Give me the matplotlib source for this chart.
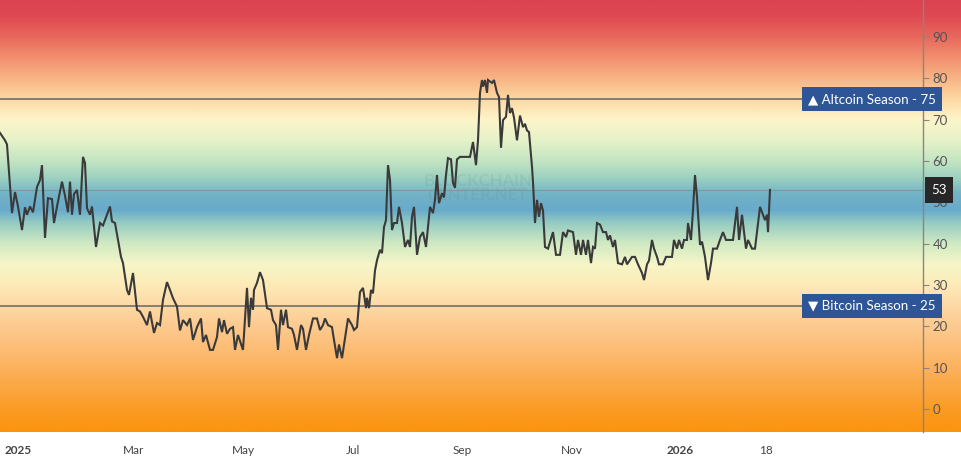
import numpy as np
import matplotlib
matplotlib.use("Agg")
import matplotlib.pyplot as plt
from matplotlib.colors import LinearSegmentedColormap
import matplotlib.transforms as mtransforms

plt.rcParams['font.family'] = ['Lato', 'DejaVu Sans']

# ---- data (bar index, Altcoin Season Index) ----
bar = [0, 5, 7, 12, 15, 18, 22, 25, 27, 30, 33, 37, 40, 42, 45, 48, 52, 54, 57, 62,
       65, 68, 70, 72, 74, 77, 80, 83, 85, 87, 90, 92, 96, 100, 103, 107, 110, 112, 115, 121,
       123, 127, 129, 133, 137, 140, 143, 147, 150, 154, 157, 160, 163, 167, 170, 173, 177, 180, 183, 187,
       190, 193, 197, 201, 203, 206, 210, 213, 217, 219, 222, 224, 227, 230, 233, 235, 238, 243, 247, 249,
       251, 253, 254, 257, 260, 263, 267, 271, 273, 276, 278, 281, 283, 286, 288, 292, 294, 297, 301, 303,
       306, 309, 313, 317, 320, 323, 325, 328, 332, 333, 337, 339, 342, 346, 348, 352, 354, 357, 360, 363,
       366, 367, 369, 371, 373, 375, 377, 380, 382, 384, 386, 388, 390, 392, 394, 397, 399, 402, 405, 408,
       410, 412, 414, 417, 420, 423, 426, 430, 433, 435, 437, 439, 442, 444, 446, 448, 451, 453, 455, 457,
       460, 465, 470, 473, 476, 478, 480, 482, 483, 485, 487, 488, 492, 494, 497, 499, 501, 503, 506, 508,
       510, 512, 514, 517, 520, 523, 525, 527, 529, 532, 533, 535, 537, 539, 541, 543, 545, 548, 553, 556,
       560, 563, 566, 568, 573, 576, 578, 581, 583, 586, 588, 591, 593, 595, 597, 600, 603, 606, 608, 610,
       613, 615, 618, 622, 625, 627, 632, 635, 638, 642, 644, 647, 649, 652, 654, 657, 659, 663, 666, 672,
       674, 677, 679, 682, 684, 687, 688, 691, 693, 695, 697, 700, 702, 705, 708, 711, 713, 717, 720, 723,
       726, 730, 733, 737, 739, 742, 744, 746, 748, 752, 755, 757, 760, 763, 765, 767, 768, 770]
index = [66.8, 65, 64, 47.4, 52.5, 49, 43.3, 48.8, 47, 49, 47.6, 53.7, 55.4, 59, 41.4, 51, 50.8, 45, 49, 55,
         51.6, 47.6, 55, 47, 52, 53, 47, 61, 59.5, 48.6, 47, 49, 39.2, 45, 44.4, 47, 49, 45.4, 45, 36.8,
         35.3, 28.8, 27.6, 32.9, 24, 23.6, 22.3, 20.3, 23.6, 18.4, 20.8, 20.3, 26.4, 30.7, 28.8, 26.8, 24.8, 19, 21.5, 20.3,
         21.9, 16.7, 19.8, 21.9, 16.2, 17.9, 14.3, 14.3, 17.4, 21.9, 18.6, 21.5, 18.2, 19.4, 19.8, 14.3, 17.9, 14.3, 29.3, 19.8,
         26.9, 24, 28.8, 30.5, 33.1, 31.2, 24.4, 24, 21.5, 20.3, 14.3, 24, 20.3, 24, 19.8, 19.4, 17.9, 14.3, 20.3, 19.4,
         14.3, 17.9, 21.9, 21.9, 19.1, 20.3, 21.9, 20.3, 19.8, 18.2, 12.3, 15.6, 12.3, 18.6, 21.9, 20.3, 19.1, 19.8, 28.3, 29.3,
         24.4, 26.9, 24.4, 28.8, 28, 33.5, 36, 38.5, 37.7, 44, 45.7, 59, 55.4, 43.3, 45, 45, 48.9, 45, 39.2, 40.9,
         39.2, 46.5, 48.9, 37.3, 41.6, 42.8, 39.2, 48.9, 47.4, 50.6, 56.6, 49.8, 52.2, 51.2, 56.6, 60.7, 60.4, 54.7, 53.5, 60.4,
         61, 61, 61, 64.6, 59, 65, 76.5, 79.6, 78, 79.6, 76.5, 79.6, 78.9, 79.6, 76.5, 75.5, 63.2, 69.9, 70.7, 76,
         71.6, 72.8, 70.5, 65, 71, 68.2, 69, 67.4, 67, 58.6, 54.9, 45, 50.6, 46.5, 49.8, 48, 39.2, 38.8, 42.8, 37.3,
         37.3, 42.8, 41.6, 43.2, 42.8, 37.3, 40.9, 37.3, 40.9, 37.3, 40.9, 35.3, 39.2, 38.8, 45, 44.6, 42.8, 42.8, 40.9, 42,
         39.2, 40.9, 35.3, 35, 36.8, 35, 36.8, 36.8, 35, 32.9, 31.2, 35, 35.9, 40.9, 38.8, 36.8, 35, 35, 36.8, 36.8,
         40.9, 38.8, 40.9, 38.8, 40.9, 40.9, 45, 40.9, 48.1, 56.6, 51.3, 39.7, 40.5, 36.8, 31.2, 35.3, 38.8, 38.8, 40.9, 42.8,
         40.9, 40.9, 40.9, 48.9, 40.9, 47, 42.8, 38.8, 40.9, 38.8, 38.8, 42.8, 48.9, 47, 45.7, 47, 42.8, 53]

xtick_pos = [18, 134, 243, 353, 462, 572, 680, 766]
xtick_labels = ['2025', 'Mar', 'May', 'Jul', 'Sep', 'Nov', '2026', '18']
bold_labels = {'2025', '2026'}
ytick_vals = [0, 10, 20, 30, 40, 50, 60, 70, 80, 90]
altcoin_level = 75
bitcoin_level = 25
last_value = 53

# background gradient stops
grad_vals = [-5.6, 0, 10, 20, 25, 30, 35, 40, 45, 48, 52, 56, 60, 65, 70, 75, 80, 85, 90, 95, 99]
grad_cols = ['#fb940f', '#fb9c26', '#fcb25e', '#fdcb91', '#fed9a6', '#fdebb8', '#f6f6c8', '#cfe9c2',
             '#95cbc2', '#68aacb', '#72b3c5', '#9fd2c0', '#c3e5c2', '#e6f2c8', '#fdf5ca', '#fdd8a2',
             '#f8b484', '#f2906f', '#e8685c', '#df4a52', '#dc4250']

# ---- figure ----
W, H = 962, 461
fig = plt.figure(figsize=(W / 100, H / 100), dpi=100, facecolor='white')
plot_bottom = (H - 432) / H
plot_h = 432 / H
ymin, ymax = -5.57, 98.96

# gradient background (full width, including price-scale area)
bg = fig.add_axes([0, plot_bottom, 1, plot_h], zorder=0)
lo, hi = grad_vals[0], grad_vals[-1]
cmap = LinearSegmentedColormap.from_list(
    'season', [((v - lo) / (hi - lo), c) for v, c in zip(grad_vals, grad_cols)])
yy = np.linspace(ymin, ymax, 600).reshape(-1, 1)
bg.imshow(yy, cmap=cmap, vmin=lo, vmax=hi, aspect='auto', origin='lower',
          extent=[0, 1, ymin, ymax], interpolation='bilinear')
bg.set_xlim(0, 1)
bg.set_ylim(ymin, ymax)
bg.axis('off')

ax = fig.add_axes([0, plot_bottom, 923 / W, plot_h], zorder=1)
ax.patch.set_alpha(0)
ax.set_xlim(0, 923)
ax.set_ylim(ymin, ymax)

# watermark
ax.text(478, 53.5, 'BLOCKCHAIN\nCENTER.NET', ha='center', va='center', fontsize=12,
        color='#6a7a80', alpha=0.13, linespacing=0.85, fontweight='bold', zorder=1)

# level lines
ax.axhline(altcoin_level, color='#6e6e6e', lw=1.2, zorder=2)
ax.axhline(bitcoin_level, color='#6e6e6e', lw=1.2, zorder=2)
ax.axhline(last_value, color='#7f9297', lw=0.8, alpha=0.8, zorder=2)

ax.plot(bar, index, color='#3a3a3a', lw=1.5, zorder=3, solid_joinstyle='miter')

# axes styling
for s in ['top', 'left', 'bottom']:
    ax.spines[s].set_visible(False)
ax.spines['right'].set_color('#8a8580')
ax.spines['right'].set_linewidth(1.0)
ax.yaxis.tick_right()
ax.set_yticks(ytick_vals)
ax.set_yticklabels([str(v) for v in ytick_vals])
ax.tick_params(axis='y', length=4, width=0.8, color='#8a8580', labelcolor='#555555',
               labelsize=9.5, pad=3)
ax.set_xticks(xtick_pos)
ax.set_xticklabels(xtick_labels)
ax.tick_params(axis='x', length=0, labelsize=8.5, labelcolor='#444444', pad=9)
for t in ax.get_xticklabels():
    if t.get_text() in bold_labels:
        t.set_fontweight('bold')

# right-side labels
trans = mtransforms.blended_transform_factory(fig.transFigure, ax.transData)
box_kw = dict(boxstyle='square,pad=0.45', fc='#2e5597', ec='none')
ax.text(808 / W, altcoin_level, '\u25B2 Altcoin Season - %d' % altcoin_level, transform=trans,
        ha='left', va='center', fontsize=9.6, color='white', bbox=box_kw, zorder=5, clip_on=False)
ax.text(808 / W, bitcoin_level, '\u25BC Bitcoin Season - %d' % bitcoin_level, transform=trans,
        ha='left', va='center', fontsize=9.6, color='white', bbox=box_kw, zorder=5, clip_on=False)
ax.text(939 / W, last_value, str(last_value), transform=trans, ha='center', va='center',
        fontsize=9.5, color='white', zorder=5, clip_on=False,
        bbox=dict(boxstyle='square,pad=0.5', fc='#272727', ec='none'))

fig.savefig('out.png', dpi=100, facecolor='white')
